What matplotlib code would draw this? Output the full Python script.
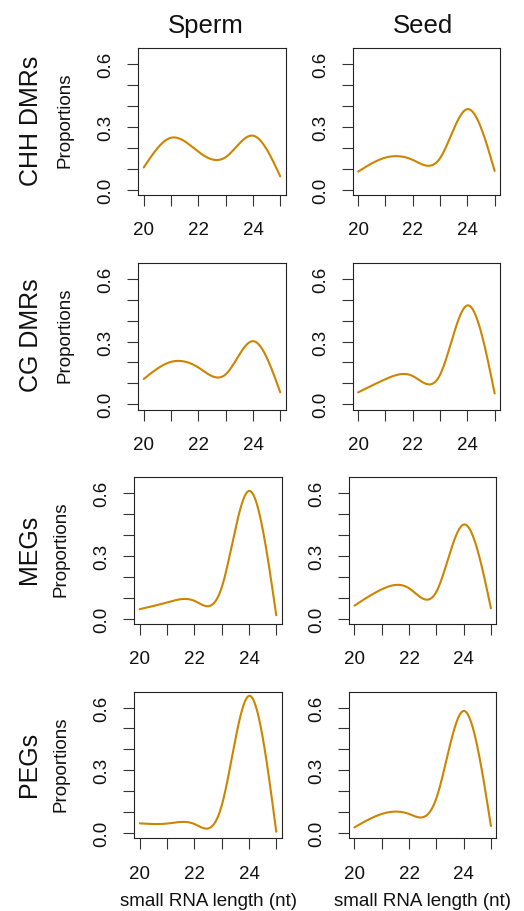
import numpy as np
import matplotlib
matplotlib.use('Agg')
import matplotlib.pyplot as plt

plt.rcParams['font.family'] = ['Liberation Sans', 'DejaVu Sans']

# ---- data ----
lengths = [20, 21, 22, 23, 24, 25]
columns = ['Sperm', 'Seed']
rows = ['CHH DMRs', 'CG DMRs', 'MEGs', 'PEGs']
sperm_chh = [0.106, 0.248, 0.181, 0.155, 0.258, 0.063]
seed_chh = [0.086, 0.153, 0.142, 0.150, 0.385, 0.089]
sperm_cg = [0.121, 0.203, 0.176, 0.143, 0.302, 0.057]
seed_cg = [0.057, 0.120, 0.135, 0.141, 0.473, 0.052]
sperm_meg = [0.045, 0.077, 0.085, 0.148, 0.611, 0.016]
seed_meg = [0.062, 0.140, 0.145, 0.128, 0.450, 0.049]
sperm_peg = [0.046, 0.045, 0.043, 0.130, 0.656, 0.006]
seed_peg = [0.027, 0.091, 0.091, 0.166, 0.584, 0.033]
panel_data = [[sperm_chh, seed_chh], [sperm_cg, seed_cg],
              [sperm_meg, seed_meg], [sperm_peg, seed_peg]]
yticks = [0.0, 0.1, 0.2, 0.3, 0.4, 0.5, 0.6]
ytick_labels = ['0.0', '', '', '0.3', '', '', '0.6']
xticks = [20, 21, 22, 23, 24, 25]
xtick_labels = ['20', '', '22', '', '24', '']
ylab = 'Proportions'
xlab = 'small RNA length (nt)'


def natural_spline(x, y, n=300):
    x = np.asarray(x, float)
    y = np.asarray(y, float)
    k = len(x)
    h = np.diff(x)
    A = np.zeros((k, k))
    b = np.zeros(k)
    A[0, 0] = 1
    A[-1, -1] = 1
    for i in range(1, k - 1):
        A[i, i - 1] = h[i - 1]
        A[i, i] = 2 * (h[i - 1] + h[i])
        A[i, i + 1] = h[i]
        b[i] = 6 * ((y[i + 1] - y[i]) / h[i] - (y[i] - y[i - 1]) / h[i - 1])
    M = np.linalg.solve(A, b)
    xs = np.linspace(x[0], x[-1], n)
    idx = np.clip(np.searchsorted(x, xs) - 1, 0, k - 2)
    x0, x1 = x[idx], x[idx + 1]
    hh = x1 - x0
    t0 = x1 - xs
    t1 = xs - x0
    ys = (M[idx] * t0 ** 3 / (6 * hh) + M[idx + 1] * t1 ** 3 / (6 * hh)
          + (y[idx] / hh - M[idx] * hh / 6) * t0
          + (y[idx + 1] / hh - M[idx + 1] * hh / 6) * t1)
    return xs, ys


W, H = 524, 912
fig = plt.figure(figsize=(W / 100, H / 100), dpi=100)

row_tops = [49.3, 264.0, 478.3, 692.7]
box_h = 146.7
box_w = 147.4
col_lefts = [[138.3, 352.7], [138.3, 352.7], [134.3, 349.0], [134.3, 349.0]]
row_shift = [0, 0, -4, -4]

color = '#CD8500'

for r in range(4):
    for c in range(2):
        left = col_lefts[r][c]
        top = row_tops[r]
        ax = fig.add_axes([left / W, 1 - (top + box_h) / H, box_w / W, box_h / H])
        xs, ys = natural_spline(lengths, panel_data[r][c])
        ax.plot(xs, ys, color=color, lw=1.5, solid_capstyle='round')
        ax.set_xlim(19.8, 25.2)
        ax.set_ylim(-0.026, 0.676)
        ax.set_xticks(xticks)
        ax.set_xticklabels(xtick_labels)
        ax.set_yticks(yticks)
        ax.set_yticklabels(ytick_labels, rotation=90, va='center')
        ax.tick_params(axis='both', direction='out', length=8, width=0.8,
                       color='#333333', labelsize=13.5, labelcolor='#111111')
        ax.tick_params(axis='x', pad=11)
        ax.tick_params(axis='y', pad=9)
        for s in ax.spines.values():
            s.set_linewidth(0.8)
            s.set_color('#222222')
        if r == 3:
            fig.text((left + box_w / 2) / W, 1 - 902 / H, xlab, fontsize=13.5,
                     ha='center', va='center', color='#111111')

    # row labels
    cy = row_tops[r] + box_h / 2 - 2
    fig.text((31 + row_shift[r] / 2) / W, 1 - cy / H, rows[r], fontsize=18,
             rotation=90, ha='center', va='center', color='#111111')
    fig.text((65 + row_shift[r]) / W, 1 - cy / H, ylab, fontsize=13.5,
             rotation=90, ha='center', va='center', color='#111111')

# column titles
fig.text(206 / W, 1 - 26 / H, columns[0], fontsize=18.5, ha='center', va='center',
         color='#111111')
fig.text(422.5 / W, 1 - 26 / H, columns[1], fontsize=18.5, ha='center', va='center',
         color='#111111')

fig.savefig('out.png', dpi=100)
